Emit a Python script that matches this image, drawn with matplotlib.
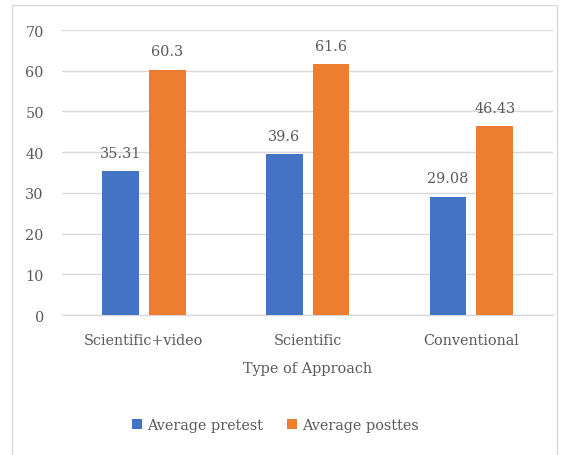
import numpy as np
import matplotlib.pyplot as plt
from matplotlib.patches import Rectangle

# chart values
approaches = ["Scientific+video", "Scientific", "Conventional"]
pretest = [35.31, 39.6, 29.08]
posttest = [60.3, 61.6, 46.43]
pretest_labels = ["35.31", "39.6", "29.08"]
posttest_labels = ["60.3", "61.6", "46.43"]

blue = "#4472C4"
orange = "#ED7D31"
grey_text = "#595959"
grid_col = "#D9D9D9"

plt.rcParams['font.family'] = ['DejaVu Serif']

fig = plt.figure(figsize=(5.68, 4.56), dpi=100)
ax = fig.add_axes([0.109, 0.307, 0.865, 0.625])

# outer chart frame
fig.patches.append(Rectangle((0.021, -0.02), 0.96, 1.007, transform=fig.transFigure,
                             fill=False, edgecolor=grid_col, linewidth=1.0))

x = np.arange(len(approaches))
w = 0.225
off = 0.143
b1 = ax.bar(x - off, pretest, w, color=blue, label="Average pretest", zorder=3)
b2 = ax.bar(x + off, posttest, w, color=orange, label="Average posttes", zorder=3)

fs = 10.4
for bars, labels in [(b1, pretest_labels), (b2, posttest_labels)]:
    for bar, lab in zip(bars, labels):
        ax.annotate(lab, (bar.get_x() + bar.get_width() / 2, bar.get_height()),
                    xytext=(0, 8), textcoords="offset points", ha="center", va="bottom",
                    fontsize=fs, color=grey_text)

ax.set_xlim(-0.5, 2.5)
ax.set_ylim(0, 70)
ax.set_yticks(range(0, 71, 10))
ax.set_xticks(x)
ax.set_xticklabels(approaches)
ax.tick_params(axis="both", length=0, labelsize=fs, labelcolor=grey_text)
ax.tick_params(axis="y", pad=13)
ax.tick_params(axis="x", pad=13)
ax.grid(axis="y", color=grid_col, linewidth=1.0, zorder=0)
for s in ["top", "right", "left"]:
    ax.spines[s].set_visible(False)
ax.spines["bottom"].set_color(grid_col)
ax.spines["bottom"].set_linewidth(1.0)

ax.set_xlabel("Type of Approach", fontsize=fs, color=grey_text, labelpad=10)

fig.legend(handles=[b1, b2], loc="center", bbox_to_anchor=(0.485, 0.066), ncol=2,
           frameon=False, fontsize=fs, labelcolor=grey_text, handlelength=0.7,
           handleheight=0.7, handletextpad=0.4, columnspacing=1.6)

fig.savefig("out.png", dpi=100, facecolor="white")
